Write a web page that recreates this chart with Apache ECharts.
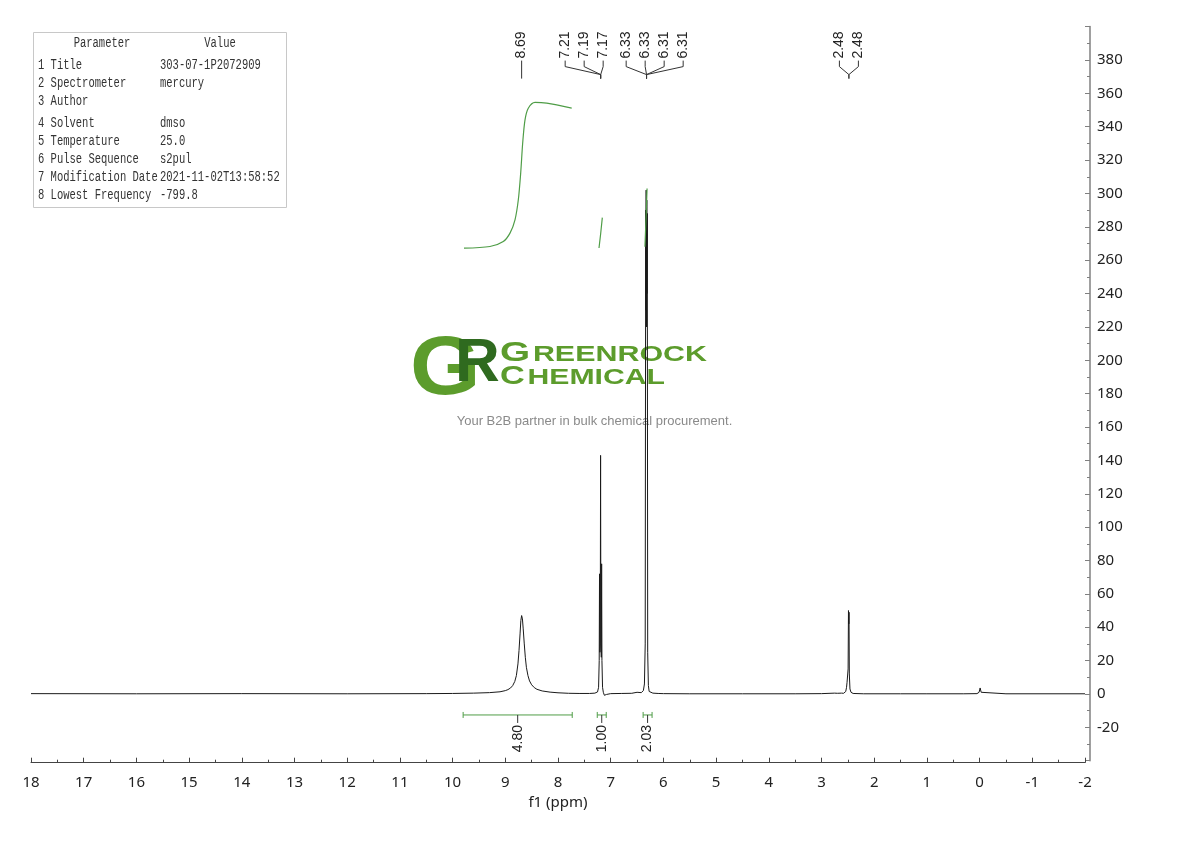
<!DOCTYPE html>
<html><head><meta charset="utf-8">
<script src="https://cdn.jsdelivr.net/npm/echarts@6/dist/echarts.min.js"></script>
<style>html,body{margin:0;padding:0;background:#fff}#c{width:1190px;height:841px}</style>
</head><body><div id="c"></div>
<script>
// ---- spectrum (ppm, intensity) ----
const specPpm = [18.0,16.0,14.0,12.0,10.5,10.0,9.6,9.3,9.1,9.0,8.95,8.9,8.86,8.82,8.79,8.76,8.74,8.72,8.705,8.69,8.675,8.66,8.64,8.62,8.60,8.57,8.54,8.50,8.45,8.40,8.30,8.15,8.0,7.8,7.6,7.4,7.30,7.25,7.23,7.218,7.212,7.205,7.198,7.192,7.186,7.178,7.172,7.166,7.155,7.14,7.12,7.08,7.0,6.8,6.6,6.5,6.47,6.42,6.38,6.36,6.345,6.336,6.331,6.327,6.320,6.315,6.311,6.306,6.298,6.285,6.27,6.24,6.20,6.1,6.0,5.5,4.5,3.5,3.0,2.75,2.72,2.70,2.62,2.60,2.58,2.54,2.525,2.515,2.505,2.495,2.488,2.482,2.478,2.472,2.46,2.44,2.40,2.2,1.5,1.0,0.3,0.05,0.01,-0.01,-0.03,-0.06,-0.5,-2.0];
const specInt = [0.2,0.1,0.2,0.1,0.2,0.3,0.5,0.8,1.3,2.0,2.6,3.6,5.0,7.5,11,18,26,36,44,47,45,39,30,22,16,11,7.8,5.5,3.8,2.8,1.8,1.1,0.7,0.4,0.3,0.3,0.5,1.2,4,20,72,25,30,143,30,22,78,20,4,1,-0.8,-0.3,0.2,0.3,0.4,1.0,0.6,0.8,2.0,6,30,290,230,302,220,296,240,288,25,5,1.5,0.8,0.5,0.3,0.2,0.1,0.1,0.1,0.2,0.5,1.2,0.4,0.5,1.0,0.4,1.5,4,7,6,15,50,42,49,12,3,1,0.3,0.1,0.1,0.1,0.1,0.2,1.0,3.6,1.0,0.2,0.1,0.1];

// ---- integral curves ----
const int1Ppm = [9.784,9.291,9.038,8.911,8.816,8.753,8.708,8.670,8.626,8.564,8.436,8.214,7.740];
const int1Val = [267.2,268.2,271.2,276.2,284.2,296.2,312.2,330.2,344.1,351.1,354.6,354.1,351.1];
const int2Ppm = [7.222,7.19,7.159];
const int2Val = [267.3,276.0,285.5];
const int3Ppm = [6.35,6.33,6.31];
const int3Val = [268,285,303];

// ---- integration ranges & values ----
const integFrom = [9.80,7.255,6.385];
const integTo = [7.73,7.085,6.215];
const integLabels = ['4.80','1.00','2.03'];

// ---- peak picking ----
const peakGroupShift = [8.69,7.19,6.32,2.48];
const peakGroupLabels = [['8.69'],['7.21','7.19','7.17'],['6.33','6.33','6.31','6.31'],['2.48','2.48']];

// ---- parameter table ----
const paramNames = ['1 Title','2 Spectrometer','3 Author','4 Solvent','5 Temperature','6 Pulse Sequence','7 Modification Date','8 Lowest Frequency'];
const paramValues = ['303-07-1P2072909','mercury','','dmso','25.0','s2pul','2021-11-02T13:58:52','-799.8'];

const zip = (a,b) => a.map((v,i)=>[v,b[i]]);
const green = '#4f9d47';

const chart = echarts.init(document.getElementById('c'), null, {renderer:'canvas'});
const axisFont = 'Noto Sans';
const option = {
  animation:false,
  backgroundColor:'#fff',
  grid:{left:31,right:105,top:26.6,bottom:80.3,containLabel:false},
  xAxis:{
    type:'value', inverse:true, min:-2, max:18, interval:1, offset:2,
    name:'f1 (ppm)', nameLocation:'middle', nameGap:30,
    nameTextStyle:{fontSize:15,color:'#222',fontFamily:axisFont},
    axisLine:{show:true,onZero:false,lineStyle:{color:'#444',width:1}},
    axisTick:{show:true,inside:true,length:5,lineStyle:{color:'#444'}},
    minorTick:{show:true,splitNumber:2,length:3,lineStyle:{color:'#444'}},
    axisLabel:{fontSize:15,color:'#222',margin:13,fontFamily:axisFont},
    splitLine:{show:false}
  },
  yAxis:{
    type:'value', position:'right', min:-40, max:400, interval:20, offset:5,
    axisLine:{show:true,onZero:false,lineStyle:{color:'#808080',width:1.5}},
    axisTick:{show:true,inside:true,length:5,lineStyle:{color:'#808080'}},
    minorTick:{show:true,splitNumber:2,length:3,lineStyle:{color:'#808080'}},
    axisLabel:{fontSize:15,color:'#222',margin:7,fontFamily:axisFont,
      formatter:v => (v===400||v===-40)?'':String(v)},
    splitLine:{show:false}
  },
  series:[
    {type:'line',data:zip(specPpm,specInt),showSymbol:false,symbol:'none',
     lineStyle:{color:'#1a1a1a',width:1},z:3},
    {type:'line',data:zip(int1Ppm,int1Val),symbol:'none',smooth:0.3,lineStyle:{color:green,width:1.2},z:4},
    {type:'line',data:zip(int2Ppm,int2Val),symbol:'none',lineStyle:{color:green,width:1.2},z:4},
    {type:'line',data:zip(int3Ppm,int3Val),symbol:'none',lineStyle:{color:green,width:1.2},z:4}
  ]
};
chart.setOption(option);

const toPx = (x,y) => chart.convertToPixel({gridIndex:0},[x,y]);
const els = [];
function txt(o){
  const st = Object.assign({fill:'#222'}, o.style);
  if (st.align) st.textAlign = st.align;
  if (st.verticalAlign) st.textVerticalAlign = st.verticalAlign;
  return Object.assign({type:'text', z:20}, o, {style:st});
}
function line(points, stroke, w, z){
  return {type:'polyline', z:z||20, shape:{points}, style:{stroke, lineWidth:w||1, fill:null}};
}

// ---- parameter table ----
els.push({type:'rect', z:5, shape:{x:33.5,y:32.5,width:253,height:175}, style:{fill:'#fff',stroke:'#c8c8c8',lineWidth:1}});
const tFont = '14px "Liberation Mono"';
const tScale = 0.75;
els.push(txt({x:102,y:43,scaleX:tScale,style:{text:'Parameter',font:tFont,fill:'#333',align:'center',verticalAlign:'middle'}}));
els.push(txt({x:220,y:43,scaleX:tScale,style:{text:'Value',font:tFont,fill:'#333',align:'center',verticalAlign:'middle'}}));
const rowY = [65,83,101,123,141,159,177,195];
paramNames.forEach((n,i)=>{
  els.push(txt({x:38,y:rowY[i],scaleX:tScale,style:{text:n,font:tFont,fill:'#333',align:'left',verticalAlign:'middle'}}));
  els.push(txt({x:160,y:rowY[i],scaleX:tScale,style:{text:paramValues[i],font:tFont,fill:'#333',align:'left',verticalAlign:'middle'}}));
});

// ---- watermark logo ----
const mc = document.createElement('canvas').getContext('2d');
const tw = (t,f) => { mc.font = f; return mc.measureText(t).width; };
const lg = '#5c9c2c', dg = '#2f6a1f';
els.push(txt({z:1,x:410,y:371,scaleX:1.08,style:{text:'G',font:'bold 84px "Liberation Sans"',fill:lg,align:'left',verticalAlign:'middle'}}));
els.push(txt({z:1.5,x:455,y:364,style:{text:'R',font:'bold 62px "Liberation Sans"',fill:dg,align:'left',verticalAlign:'middle'}}));
function logoWord(big, rest, bigSize, baseline, targetW){
  const fB = 'bold '+bigSize+'px "Liberation Sans"', fS = 'bold 22px "Liberation Sans"';
  const wB = tw(big,fB), wS = tw(rest,fS);
  const sx = targetW/(wB+wS+2);
  els.push(txt({z:1,x:500,y:baseline-0.35*bigSize,scaleX:sx,style:{text:big,font:fB,fill:lg,align:'left',verticalAlign:'middle'}}));
  els.push(txt({z:1,x:500+(wB+2)*sx,y:baseline-0.35*22,scaleX:sx,style:{text:rest,font:fS,fill:lg,align:'left',verticalAlign:'middle'}}));
}
logoWord('G','REENROCK',28,363,207);
logoWord('C','HEMICAL',25,386,165);
els.push(txt({z:1,x:594.5,y:421,style:{text:'Your B2B partner in bulk chemical procurement.',font:'13px "Liberation Sans"',fill:'#8a8a8a',align:'center',verticalAlign:'middle'}}));

// ---- peak labels ----
const gTop = toPx(18,400)[1];
const base = gTop + 32;
const spacing = 19, gap = 23;
const groups = peakGroupShift.map((s,gi)=>{
  const px = toPx(s,0)[0];
  const n = peakGroupLabels[gi].length;
  return {px, n, labels:peakGroupLabels[gi], start: px-(n-1)*spacing/2};
}).sort((a,b)=>a.px-b.px);
for (let it=0; it<10; it++){
  for (let i=0;i<groups.length-1;i++){
    const a=groups[i], b=groups[i+1];
    const ov = (a.start+(a.n-1)*spacing+gap) - b.start;
    if (ov>0){ a.start -= ov*0.67; b.start += ov*0.33; }
  }
}
const lblFont = '14px "Liberation Sans"';
groups.forEach(g=>{
  g.labels.forEach((t,i)=>{
    const lx = g.start + i*spacing;
    els.push(txt({x:lx,y:base,rotation:Math.PI/2,style:{text:t,font:lblFont,fill:'#222',align:'left',verticalAlign:'middle'}}));
    if (g.n===1) els.push(line([[g.px,base+2],[g.px,base+20]],'#333',1));
    else els.push(line([[lx,base+2],[lx,base+8],[g.px,base+16],[g.px,base+20]],'#333',1));
  });
});

// ---- integration bars ----
const zeroY = toPx(0,0)[1];
integFrom.forEach((f,i)=>{
  const x1 = toPx(f,0)[0], x2 = toPx(integTo[i],0)[0];
  const y = zeroY + 21, cx = (x1+x2)/2;
  els.push(line([[x1,y],[x2,y]],green,1));
  els.push(line([[x1,y-3],[x1,y+3]],green,1));
  els.push(line([[x2,y-3],[x2,y+3]],green,1));
  els.push(line([[cx,y],[cx,y+8]],'#333',1));
  els.push(txt({x:cx,y:y+10,rotation:Math.PI/2,style:{text:integLabels[i],font:lblFont,fill:'#222',align:'right',verticalAlign:'middle'}}));
});

chart.setOption({graphic:{elements:els}});
</script>
</body></html>
